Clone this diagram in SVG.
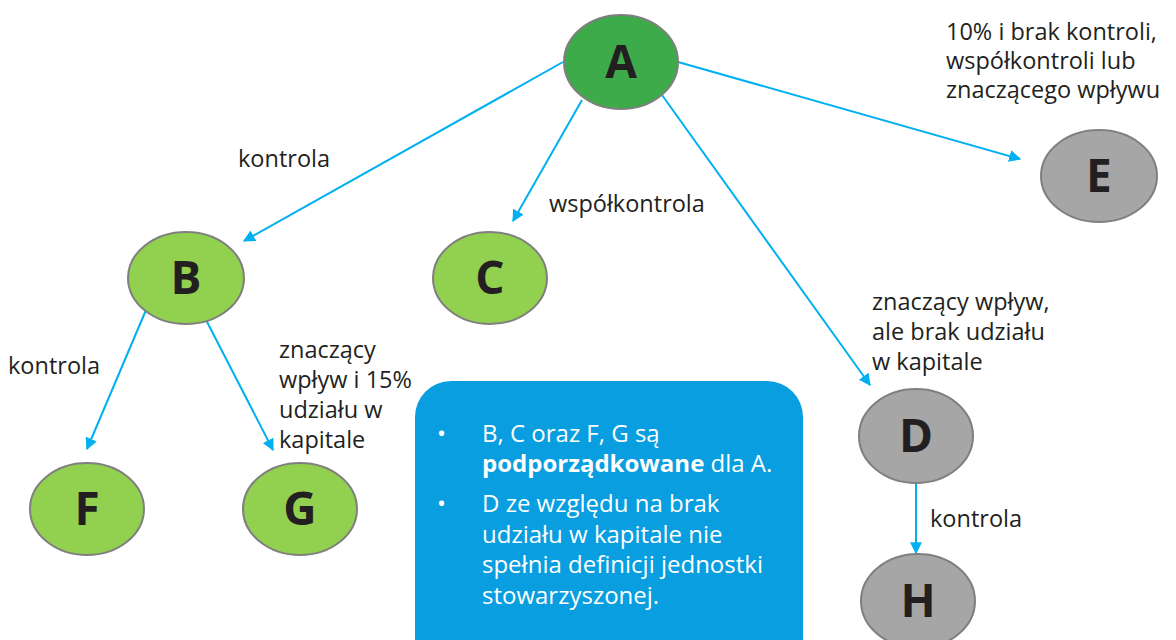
<svg xmlns="http://www.w3.org/2000/svg" width="1176" height="640" viewBox="0 0 1176 640">
<defs>
<style>
.node{stroke:#7f7f7f;stroke-width:2}
.dg{fill:#3dab4a}
.lg{fill:#92d050}
.gr{fill:#a6a6a6}
.let{font-family:"Open Sans","Noto Sans",sans-serif;font-weight:bold;font-size:46px;fill:#231f20;text-anchor:middle}
.lbl{font-family:"Open Sans","Noto Sans",sans-serif;font-size:23.5px;fill:#231f20}
.box{font-family:"Open Sans","Noto Sans",sans-serif;font-size:24px;fill:#ffffff}
.conn{stroke:#00b0f0;stroke-width:2;fill:none;marker-end:url(#arr)}
</style>
<marker id="arr" viewBox="0 0 10 10" refX="9" refY="5" markerWidth="6" markerHeight="6" markerUnits="strokeWidth" orient="auto">
<path d="M0,0 L10,5 L0,10 z" fill="#00b0f0"/>
</marker>
</defs>
<rect width="1176" height="640" fill="#ffffff"/>
<g id="connectors">
<line class="conn" x1="563" y1="62" x2="244" y2="241"/>
<line class="conn" x1="582" y1="100" x2="513" y2="221"/>
<line class="conn" x1="662" y1="95" x2="870" y2="385"/>
<line class="conn" x1="678" y1="62" x2="1020" y2="159"/>
<line class="conn" x1="146" y1="310" x2="87" y2="449"/>
<line class="conn" x1="204" y1="316" x2="273" y2="450"/>
<line class="conn" x1="916" y1="484" x2="916" y2="553"/>
</g>
<g id="node-A"><ellipse class="node dg" cx="621" cy="62" rx="57" ry="47"/><text class="let" x="621" y="78">A</text></g>
<g id="node-B"><ellipse class="node lg" cx="186" cy="278" rx="58" ry="46"/><text class="let" x="186" y="294">B</text></g>
<g id="node-C"><ellipse class="node lg" cx="490" cy="278" rx="57" ry="46"/><text class="let" x="490" y="294">C</text></g>
<g id="node-E"><ellipse class="node gr" cx="1099" cy="176" rx="58" ry="46"/><text class="let" x="1099" y="192">E</text></g>
<g id="node-D"><ellipse class="node gr" cx="916" cy="436" rx="57" ry="47"/><text class="let" x="916" y="452">D</text></g>
<g id="node-H"><ellipse class="node gr" cx="918" cy="601" rx="57" ry="47"/><text class="let" x="918" y="617">H</text></g>
<g id="node-F"><ellipse class="node lg" cx="87" cy="509" rx="57" ry="46"/><text class="let" x="87" y="525">F</text></g>
<g id="node-G"><ellipse class="node lg" cx="300" cy="509" rx="57" ry="46"/><text class="let" x="300" y="525">G</text></g>
<g id="labels">
<text class="lbl" x="238" y="167">kontrola</text>
<text class="lbl" x="549" y="212">współkontrola</text>
<text class="lbl" x="946" y="40">10% i brak kontroli,</text>
<text class="lbl" x="946" y="69">współkontroli lub</text>
<text class="lbl" x="946" y="98">znaczącego wpływu</text>
<text class="lbl" x="872" y="310">znaczący wpływ,</text>
<text class="lbl" x="872" y="340">ale brak udziału</text>
<text class="lbl" x="872" y="370">w kapitale</text>
<text class="lbl" x="8" y="374">kontrola</text>
<text class="lbl" x="279" y="358">znaczący</text>
<text class="lbl" x="279" y="388">wpływ i 15%</text>
<text class="lbl" x="279" y="418">udziału w</text>
<text class="lbl" x="279" y="448">kapitale</text>
<text class="lbl" x="930" y="527">kontrola</text>
</g>
<g id="note">
<rect x="415" y="381" width="388" height="300" rx="36" ry="36" fill="#089ee0"/>
<text class="box" x="437" y="442">•</text>
<text class="box" x="482" y="442">B, C oraz F, G są</text>
<text class="box" x="482" y="472"><tspan font-weight="bold">podporządkowane</tspan> dla A.</text>
<text class="box" x="437" y="512">•</text>
<text class="box" x="482" y="512">D ze względu na brak</text>
<text class="box" x="482" y="543">udziału w kapitale nie</text>
<text class="box" x="482" y="573">spełnia definicji jednostki</text>
<text class="box" x="482" y="604">stowarzyszonej.</text>
</g>
</svg>
